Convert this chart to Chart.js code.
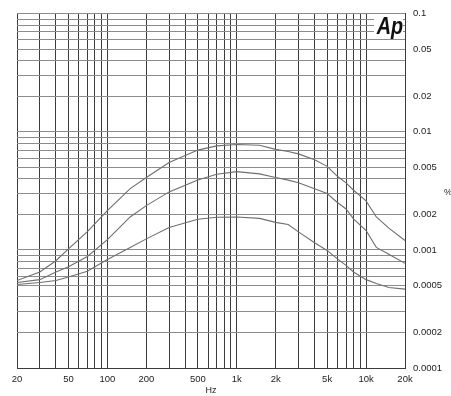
<!DOCTYPE html>
<html>
<head>
<meta charset="utf-8">
<script src="https://cdn.jsdelivr.net/npm/chart.js@4/dist/chart.umd.min.js"></script>
<style>
  html, body { margin: 0; padding: 0; background: #fff; }
  #wrap { width: 451px; height: 396px; }
</style>
</head>
<body>
<div id="wrap"><canvas id="thdChart"></canvas></div>
<script>
// Frequency points (Hz)
const freqs = [20, 30, 40, 50, 70, 100, 150, 200, 300, 500, 700, 1000, 1500, 2000, 2500, 3000, 4000, 5000, 6000, 7000, 8000, 10000, 12000, 15000, 20000];

// THD+N (%) for the three traces
const upperCurve = [0.00055, 0.00065, 0.00081, 0.00102, 0.00143, 0.00215, 0.0033, 0.0041, 0.0055, 0.007, 0.0076, 0.0078, 0.0077, 0.0071, 0.0068, 0.0065, 0.0058, 0.0051, 0.0042, 0.0037, 0.0032, 0.0026, 0.0019, 0.00153, 0.0012];
const middleCurve = [0.00053, 0.00056, 0.00065, 0.00072, 0.00088, 0.00122, 0.0019, 0.00237, 0.0031, 0.0039, 0.00437, 0.0046, 0.0044, 0.0041, 0.0039, 0.0037, 0.0033, 0.003, 0.00252, 0.00222, 0.00183, 0.00146, 0.00105, 0.00092, 0.00077];
const lowerCurve = [0.00051, 0.00053, 0.00055, 0.00059, 0.00066, 0.00083, 0.00105, 0.00124, 0.00155, 0.00182, 0.00189, 0.0019, 0.00185, 0.00171, 0.00164, 0.00142, 0.00115, 0.00099, 0.00084, 0.00074, 0.00065, 0.00056, 0.00052, 0.00048, 0.000465];

// labelled ticks
const xTickLabels = [20, 50, 100, 200, 500, 1000, 2000, 5000, 10000, 20000];
const yTickLabels = [0.1, 0.05, 0.02, 0.01, 0.005, 0.002, 0.001, 0.0005, 0.0002, 0.0001];

const FONT = 'Liberation Sans, Arial, sans-serif';

// 1..9 per decade, used for the grid
function decadeTicks(min, max) {
    const out = [];
    for (let e = -5; e <= 5; e++) {
        for (let m = 1; m <= 9; m++) {
            const v = Number((m * Math.pow(10, e)).toPrecision(3));
            if (v >= min * 0.9999 && v <= max * 1.0001) out.push({ value: v });
        }
    }
    return out;
}

const toPoints = (ys) => freqs.map((f, i) => ({ x: f, y: ys[i] }));

const extraText = {
    id: 'extraText',
    afterDraw(chart) {
        const ctx = chart.ctx;
        const area = chart.chartArea;
        ctx.save();
        // Ap logo
        ctx.fillStyle = '#fff';
        ctx.fillRect(area.right - 31, area.top + 2, 29, 21);
        ctx.fillStyle = '#111';
        ctx.font = 'bold italic 23px ' + FONT;
        ctx.textAlign = 'right';
        ctx.textBaseline = 'alphabetic';
        ctx.save();
        ctx.translate(area.right - 2, area.top + 20);
        ctx.scale(0.86, 1);
        ctx.fillText('Ap', 0, 0);
        ctx.restore();
        // axis units
        ctx.fillStyle = '#222';
        ctx.font = '9px ' + FONT;
        ctx.textAlign = 'left';
        ctx.textBaseline = 'middle';
        ctx.fillText('%', 444, 193);
        ctx.textAlign = 'center';
        ctx.fillText('Hz', (area.left + area.right) / 2, 391);
        ctx.restore();
    }
};

function initChart() {
    const ctx = document.getElementById('thdChart').getContext('2d');
    const lineStyle = {
        borderColor: '#6f6f6f',
        borderWidth: 1.1,
        pointRadius: 0,
        tension: 0,
        fill: false
    };

    new Chart(ctx, {
        type: 'line',
        data: {
            datasets: [
                { label: 'upper', data: toPoints(upperCurve), ...lineStyle },
                { label: 'middle', data: toPoints(middleCurve), ...lineStyle },
                { label: 'lower', data: toPoints(lowerCurve), ...lineStyle }
            ]
        },
        options: {
            responsive: true,
            maintainAspectRatio: false,
            animation: false,
            layout: { padding: { left: 17, top: 12, right: 0, bottom: 0 } },
            plugins: { legend: { display: false }, tooltip: { enabled: false } },
            scales: {
                x: {
                    type: 'logarithmic',
                    min: 20,
                    max: 20000,
                    afterBuildTicks: (scale) => { scale.ticks = decadeTicks(20, 20000); },
                    afterFit: (scale) => { scale.height = 28; },
                    grid: { color: '#3c3c3c', lineWidth: 1, drawTicks: false },
                    border: { color: '#3c3c3c' },
                    ticks: {
                        autoSkip: false,
                        maxRotation: 0,
                        padding: 6,
                        color: '#222',
                        font: { family: FONT, size: 9.5 },
                        callback: (v) => xTickLabels.includes(v) ? (v >= 1000 ? (v / 1000) + 'k' : String(v)) : ''
                    }
                },
                y: {
                    type: 'logarithmic',
                    position: 'right',
                    min: 0.0001,
                    max: 0.1,
                    afterBuildTicks: (scale) => { scale.ticks = decadeTicks(0.0001, 0.1); },
                    afterFit: (scale) => { scale.width = 46; },
                    grid: { color: '#8c8c8c', lineWidth: 1, drawTicks: false },
                    border: { color: '#3c3c3c' },
                    ticks: {
                        autoSkip: false,
                        padding: 8,
                        color: '#222',
                        font: { family: FONT, size: 9.5 },
                        callback: (v) => yTickLabels.includes(v) ? String(v) : ''
                    }
                }
            }
        },
        plugins: [extraText]
    });
}

document.addEventListener('DOMContentLoaded', initChart);
</script>
</body>
</html>
